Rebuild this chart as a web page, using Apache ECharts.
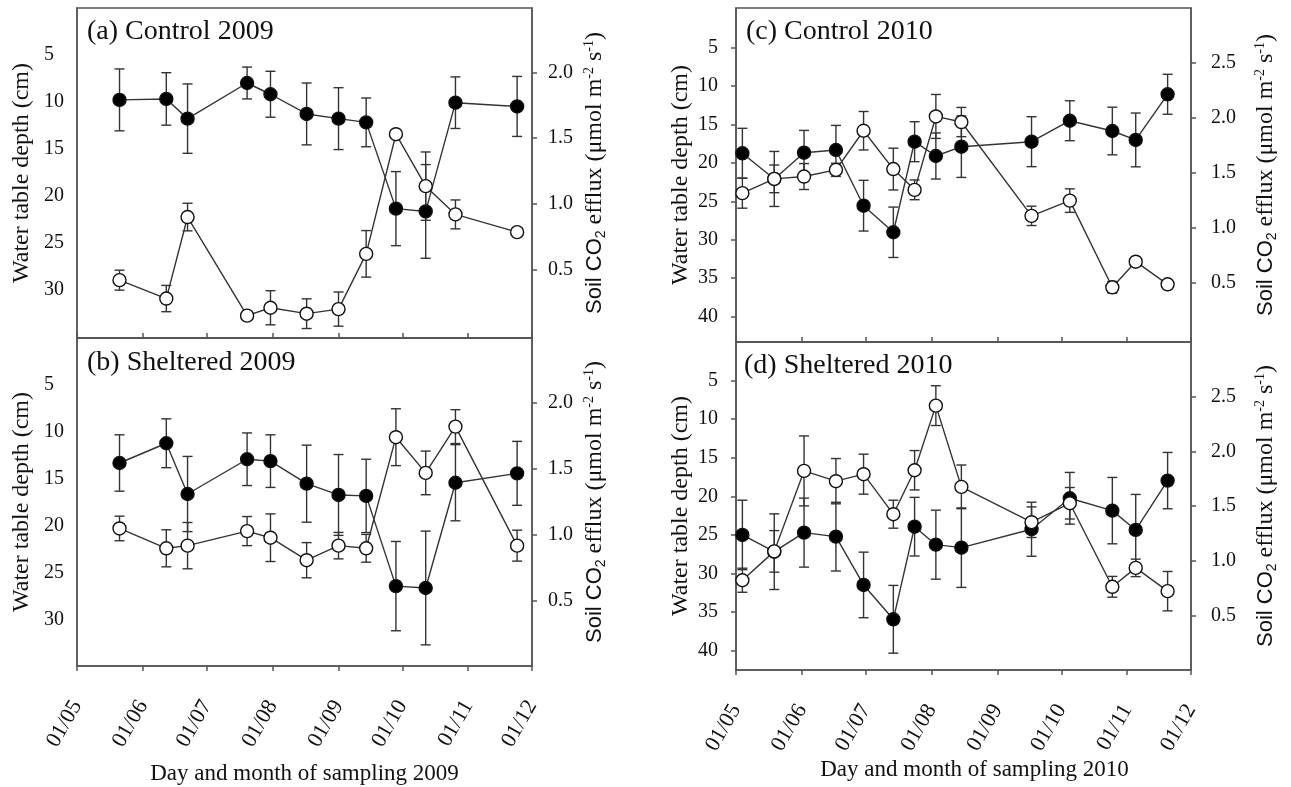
<!DOCTYPE html>
<html><head><meta charset="utf-8">
<script src="https://cdn.jsdelivr.net/npm/echarts@6/dist/echarts.min.js"></script>
<style>html,body{margin:0;padding:0;background:#fff}#c{width:1291px;height:787px}</style>
</head><body><div id="c"></div>
<script>
// ---------- data ----------
const dates2009 = ['2009-05-21','2009-06-12','2009-06-22','2009-07-20','2009-07-31','2009-08-17','2009-09-01','2009-09-14','2009-09-28','2009-10-12','2009-10-26','2009-11-24'];
const dates2010 = ['2010-05-04','2010-05-19','2010-06-02','2010-06-17','2010-06-30','2010-07-14','2010-07-24','2010-08-03','2010-08-15','2010-09-17','2010-10-05','2010-10-25','2010-11-05','2010-11-20'];

// (a) Control 2009
const wtCtrl09      = [9.8, 9.7, 11.8, 8.0, 9.2, 11.3, 11.8, 12.2, 21.4, 21.7, 10.1, 10.5];
const wtCtrl09Err   = [3.3, 2.8, 3.7, 1.7, 2.45, 3.3, 3.3, 2.6, 3.95, 5.0, 2.75, 3.2];
const fluxCtrl09    = [0.42, 0.28, 0.90, 0.15, 0.21, 0.165, 0.20, 0.62, 1.53, 1.135, 0.92, 0.785];
const fluxCtrl09Err = [0.076, 0.10, 0.105, 0.035, 0.13, 0.113, 0.13, 0.177, 0.02, 0.26, 0.11, 0.034];
// (b) Sheltered 2009
const wtShel09      = [13.3, 11.2, 16.6, 12.9, 13.1, 15.5, 16.7, 16.8, 26.4, 26.6, 15.4, 14.4];
const wtShel09Err   = [3.0, 2.6, 4.0, 2.8, 2.8, 4.1, 4.3, 3.9, 4.75, 6.05, 4.05, 3.4];
const fluxShel09    = [1.05, 0.90, 0.92, 1.03, 0.98, 0.81, 0.92, 0.90, 1.74, 1.47, 1.82, 0.92];
const fluxShel09Err = [0.093, 0.14, 0.175, 0.11, 0.18, 0.133, 0.10, 0.105, 0.215, 0.165, 0.128, 0.117];
// (c) Control 2010
const wtCtrl10      = [18.74, 22.08, 18.66, 18.31, 25.56, 29.02, 17.23, 19.09, 17.88, 17.23, 14.5, 15.84, 17.0, 11.06];
const wtCtrl10Err   = [3.25, 3.58, 2.9, 3.2, 3.3, 3.28, 2.6, 3.0, 4.0, 3.25, 2.6, 3.1, 3.5, 2.6];
const fluxCtrl10    = [1.315, 1.445, 1.466, 1.527, 1.883, 1.534, 1.345, 2.013, 1.962, 1.108, 1.247, 0.458, 0.691, 0.485];
const fluxCtrl10Err = [0.137, 0.126, 0.118, 0.06, 0.175, 0.19, 0.09, 0.2, 0.133, 0.088, 0.107, 0.053, 0.01, 0.01];
// (d) Sheltered 2010
const wtShel10      = [25.0, 27.17, 24.7, 25.22, 31.48, 35.93, 23.93, 26.26, 26.65, 24.26, 20.25, 21.85, 24.35, 17.96];
const wtShel10Err   = [4.5, 4.9, 4.47, 4.45, 4.25, 4.39, 3.8, 4.47, 5.15, 3.5, 3.35, 4.3, 4.6, 3.65];
const fluxShel10    = [0.821, 1.085, 1.821, 1.727, 1.791, 1.425, 1.827, 2.418, 1.675, 1.352, 1.525, 0.761, 0.934, 0.721];
const fluxShel10Err = [0.11, 0.19, 0.32, 0.207, 0.183, 0.128, 0.18, 0.182, 0.2, 0.14, 0.144, 0.095, 0.08, 0.18];

// tick labels
const monthTicks2009 = ['2009-05-01','2009-06-01','2009-07-01','2009-08-01','2009-09-01','2009-10-01','2009-11-01','2009-12-01'];
const monthTicks2010 = ['2010-05-01','2010-06-01','2010-07-01','2010-08-01','2010-09-01','2010-10-01','2010-11-01','2010-12-01'];
const depthTicks2009 = [5, 10, 15, 20, 25, 30];
const depthTicks2010 = [5, 10, 15, 20, 25, 30, 35, 40];
const fluxTicks2009 = [0.5, 1.0, 1.5, 2.0];
const fluxTicks2010 = [0.5, 1.0, 1.5, 2.0, 2.5];

const panelTitles = ['(a) Control 2009', '(b) Sheltered 2009', '(c) Control 2010', '(d) Sheltered 2010'];
const xNames = ['Day and month of sampling 2009', 'Day and month of sampling 2010'];

// ---------- chart ----------
const ts = s => Date.parse(s + 'T00:00:00Z');
const SERIF = "Liberation Serif";
const SANS = "Liberation Sans";
const AX = '#555', TXT = '#111';

const grids = [
  {left: 77,  top: 8,   width: 455, height: 330},
  {left: 77,  top: 338, width: 455, height: 328},
  {left: 736, top: 8,   width: 455, height: 334},
  {left: 736, top: 342, width: 455, height: 328}
];
const leftExt  = [[0, 35.2], [0, 34.9], [-0.17, 43.3], [0, 42.5]];
const rightExt = [[-0.02, 2.49], [0.01, 2.49], [-0.04, 3.0], [0, 3.0]];

const fmtMonth = v => { const d = new Date(v); return String(d.getUTCDate()).padStart(2,'0') + '/' + String(d.getUTCMonth()+1).padStart(2,'0'); };

const xAxes = [0,1,2,3].map(i => {
  const is2009 = i < 2, bottom = (i % 2) === 1;
  const ticks = (is2009 ? monthTicks2009 : monthTicks2010).map(ts);
  return {
    type: 'value', gridIndex: i, position: 'bottom',
    min: ticks[0], max: ticks[ticks.length - 1],
    axisLine: {show: true, onZero: false, lineStyle: {color: AX, width: 1.5}},
    axisTick: {show: true, inside: !bottom, length: 5, customValues: ticks, lineStyle: {color: AX, width: 1.5}},
    axisLabel: {show: bottom, customValues: ticks, rotate: 60, margin: 36, fontSize: 22, fontFamily: SERIF, color: TXT, formatter: fmtMonth},
    splitLine: {show: false},
    name: bottom ? xNames[is2009 ? 0 : 1] : '',
    nameLocation: 'middle', nameGap: is2009 ? 96 : 88, nameMoveOverlap: false,
    nameTextStyle: {fontSize: 23, fontFamily: SERIF, color: TXT, padding: is2009 ? [0,0,0,0] : [0,0,0,22]}
  };
});

const fluxName = '{s|Soil CO}{sub|2}{t| efflux (μmol m}{sup|-2}{t| s}{sup|-1}{t|)}';
const yAxes = [];
[0,1,2,3].forEach(i => {
  const is2009 = i < 2;
  const dT = is2009 ? depthTicks2009 : depthTicks2010;
  const fT = is2009 ? fluxTicks2009 : fluxTicks2010;
  yAxes.push({
    type: 'value', gridIndex: i, position: 'left', inverse: true,
    min: leftExt[i][0], max: leftExt[i][1],
    axisLine: {show: true, onZero: false, lineStyle: {color: AX, width: 1.5}},
    axisTick: {show: !is2009, length: 5, customValues: dT, lineStyle: {color: AX, width: 1.5}},
    axisLabel: {customValues: dT, margin: is2009 ? 33 : 18, align: is2009 ? 'left' : 'right', fontSize: 20, fontFamily: SERIF, color: TXT},
    splitLine: {show: false},
    name: 'Water table depth (cm)', nameLocation: 'middle', nameRotate: 90, nameGap: 43, nameMoveOverlap: false,
    nameTextStyle: {fontSize: 24, fontFamily: SERIF, color: TXT}
  });
  yAxes.push({
    type: 'value', gridIndex: i, position: 'right',
    min: rightExt[i][0], max: rightExt[i][1],
    axisLine: {show: true, onZero: false, lineStyle: {color: AX, width: 1.5}},
    axisTick: {show: true, length: 5, customValues: fT, lineStyle: {color: AX, width: 1.5}},
    axisLabel: {customValues: fT, margin: is2009 ? 16 : 20, fontSize: 20, fontFamily: SERIF, color: TXT, formatter: v => v.toFixed(1)},
    splitLine: {show: false},
    name: fluxName, nameLocation: 'middle', nameRotate: 90, nameGap: is2009 ? 50 : 62, nameMoveOverlap: false,
    nameTextStyle: {
      color: TXT, fontFamily: SERIF,
      rich: {
        s:   {fontFamily: SANS,  fontSize: 22, lineHeight: 26, color: TXT},
        sub: {fontFamily: SANS,  fontSize: 14, lineHeight: 26, verticalAlign: 'bottom', color: TXT},
        t:   {fontFamily: SERIF, fontSize: 24, lineHeight: 26, color: TXT},
        sup: {fontFamily: SERIF, fontSize: 14, lineHeight: 14, verticalAlign: 'top', color: TXT}
      }
    }
  });
});

function errSeries(xi, yi, dates, vals, errs) {
  return {
    type: 'custom', xAxisIndex: xi, yAxisIndex: yi, z: 1, silent: true, clip: false,
    encode: {x: 0, y: 1},
    data: dates.map((d, k) => [ts(d), vals[k], errs[k]]),
    renderItem(params, api) {
      const xv = api.value(0), v = api.value(1), e = api.value(2);
      const p1 = api.coord([xv, v - e]), p2 = api.coord([xv, v + e]);
      const w = 5, st = {stroke: '#333', lineWidth: 1.4};
      return {type: 'group', children: [
        {type: 'line', shape: {x1: p1[0], y1: p1[1], x2: p2[0], y2: p2[1]}, style: st},
        {type: 'line', shape: {x1: p1[0]-w, y1: p1[1], x2: p1[0]+w, y2: p1[1]}, style: st},
        {type: 'line', shape: {x1: p2[0]-w, y1: p2[1], x2: p2[0]+w, y2: p2[1]}, style: st}
      ]};
    }
  };
}
function lineSeries(xi, yi, dates, vals, filled) {
  return {
    type: 'line', xAxisIndex: xi, yAxisIndex: yi, z: filled ? 3 : 4, silent: true,
    data: dates.map((d, k) => [ts(d), vals[k]]),
    symbol: 'circle', symbolSize: 13, showSymbol: true,
    lineStyle: {color: '#333', width: 1.4},
    itemStyle: {color: filled ? '#000' : '#fff', borderColor: '#111', borderWidth: 1.4},
    emphasis: {disabled: true}
  };
}

const panels = [
  [dates2009, wtCtrl09, wtCtrl09Err, fluxCtrl09, fluxCtrl09Err],
  [dates2009, wtShel09, wtShel09Err, fluxShel09, fluxShel09Err],
  [dates2010, wtCtrl10, wtCtrl10Err, fluxCtrl10, fluxCtrl10Err],
  [dates2010, wtShel10, wtShel10Err, fluxShel10, fluxShel10Err]
];
const series = [];
panels.forEach((p, i) => {
  const [dates, wt, wtE, fl, flE] = p;
  series.push(errSeries(i, 2*i, dates, wt, wtE));
  series.push(errSeries(i, 2*i+1, dates, fl, flE));
  series.push(lineSeries(i, 2*i, dates, wt, true));
  series.push(lineSeries(i, 2*i+1, dates, fl, false));
});

const titlePos = [[87, 32], [87, 363], [746, 32], [744, 366]];
const graphic = panelTitles.map((t, i) => ({
  type: 'text', x: titlePos[i][0], y: titlePos[i][1], silent: true,
  style: {text: t, fontSize: 28, fontFamily: SERIF, fill: TXT, verticalAlign: 'middle', align: 'left'}
}));

const chart = echarts.init(document.getElementById('c'), null, {renderer: 'canvas'});
chart.setOption({
  animation: false,
  backgroundColor: '#fff',
  textStyle: {fontFamily: SERIF},
  grid: grids.map(g => Object.assign({show: true, borderColor: AX, borderWidth: 1.5, backgroundColor: 'transparent', containLabel: false, outerBoundsMode: 'none'}, g)),
  xAxis: xAxes,
  yAxis: yAxes,
  series: series,
  graphic: graphic
});
</script></body></html>
